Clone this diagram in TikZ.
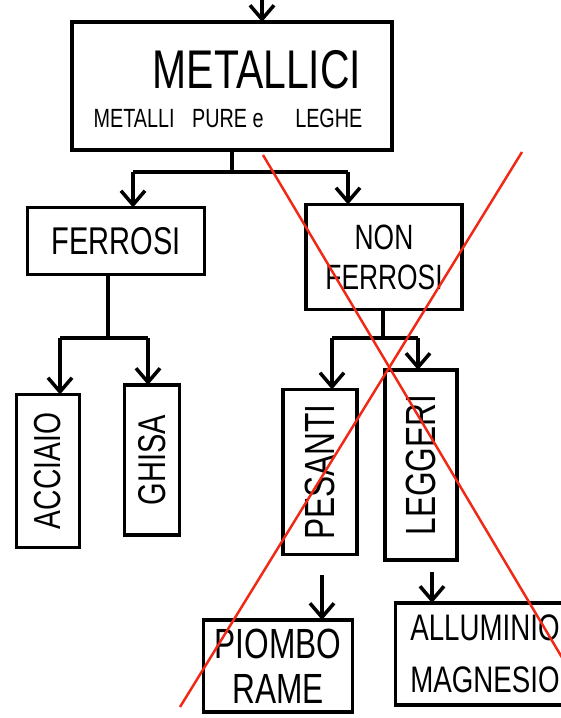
\documentclass[tikz,border=0pt]{standalone}
\usepackage{fontspec}
\usetikzlibrary{arrows.meta}
\newfontfamily\handfont[FakeStretch=0.75]{Liberation Sans}
\definecolor{crossred}{RGB}{240,40,20}

\begin{document}
\begin{tikzpicture}[x=0.01cm, y=-0.01cm,
  box/.style={draw, line width=1pt, inner sep=0pt, outer sep=0pt, align=center},
  link/.style={line width=1pt},
  arr/.style={line width=1pt, -{Straight Barb[length=1.4mm, width=2.4mm]}},
  cross/.style={draw=crossred, line width=0.7pt}]%
\useasboundingbox[fill=white] (0, 0) rectangle (561, 718);%
% boxes
\node[box, minimum width=3.20cm, minimum height=1.28cm] (metallici) at (232, 86) {};%
\node[font=\handfont\fontsize{15.5}{18}\selectfont] (titolo) at (257, 70) {METALLICI};%
\node[font=\handfont\fontsize{7.5}{9}\selectfont] (sottotitolo) at (228, 118) {METALLI\hspace{5pt}PURE e\hspace{9pt}LEGHE};%
\node[box, minimum width=1.77cm, minimum height=0.67cm, font=\handfont\fontsize{11}{13}\selectfont] (ferrosi) at (116, 241) {FERROSI};%
\node[box, minimum width=1.56cm, minimum height=1.05cm, font=\handfont\fontsize{10}{11.4}\selectfont] (nonferrosi) at (384, 257) {NON\\FERROSI};%
\node[box, minimum width=0.63cm, minimum height=1.53cm, font=\handfont\fontsize{10.7}{12}\selectfont] (acciaio) at (48, 471) {\rotatebox{90}{ACCIAIO}};%
\node[box, minimum width=0.55cm, minimum height=1.50cm, font=\handfont\fontsize{11}{12}\selectfont] (ghisa) at (152, 460) {\rotatebox{90}{GHISA}};%
\node[box, minimum width=0.74cm, minimum height=1.65cm, font=\handfont\fontsize{12}{13}\selectfont] (pesanti) at (320, 472) {\rotatebox{90}{PESANTI}};%
\node[box, minimum width=0.72cm, minimum height=1.90cm, font=\handfont\fontsize{12}{13}\selectfont] (leggeri) at (421, 465) {\rotatebox{90}{LEGGERI}};%
\node[box, minimum width=1.49cm, minimum height=0.92cm, font=\handfont\fontsize{12}{12.8}\selectfont] (piombo) at (278, 666) {PIOMBO\\RAME};%
\node[box, minimum width=1.79cm, minimum height=1.02cm, font=\handfont\fontsize{10.5}{14.8}\selectfont] (alluminio) at (485, 654) {ALLUMINIO\\MAGNESIO};%
% connectors
\coordinate (ingresso) at (262, -5);%
\draw[arr] (ingresso) -- (ingresso |- metallici.north);%
\coordinate (mj) at (232, 172);%
\coordinate (ml) at (133, 172);%
\coordinate (mr) at (348, 172);%
\draw[link] (metallici.south) -- (mj);%
\draw[link] (ml) -- (mr);%
\draw[arr] (ml) -- (ml |- ferrosi.north);%
\draw[arr] (mr) -- (mr |- nonferrosi.north);%
\coordinate (fj) at (108, 338);%
\coordinate (fl) at (60, 338);%
\coordinate (fr) at (148, 338);%
\draw[link] (fj |- ferrosi.south) -- (fj);%
\draw[link] (fl) -- (fr);%
\draw[arr] (fl) -- (fl |- acciaio.north);%
\draw[arr] (fr) -- (fr |- ghisa.north);%
\coordinate (nj) at (383, 338);%
\coordinate (nl) at (332, 338);%
\coordinate (nr) at (418, 338);%
\draw[link] (nj |- nonferrosi.south) -- (nj);%
\draw[link] (nl) -- (nr);%
\draw[arr] (nl) -- (nl |- pesanti.north);%
\draw[arr] (nr) -- (nr |- leggeri.north);%
\coordinate (pa) at (322, 575);%
\coordinate (la) at (432, 572);%
\draw[arr] (pa) -- (pa |- piombo.north);%
\draw[arr] (la) -- (la |- alluminio.north);%
% red cross
\draw[cross] (263, 155) -- (598, 718);%
\draw[cross] (522, 152) -- (180, 707);%
\end{tikzpicture}
\end{document}
